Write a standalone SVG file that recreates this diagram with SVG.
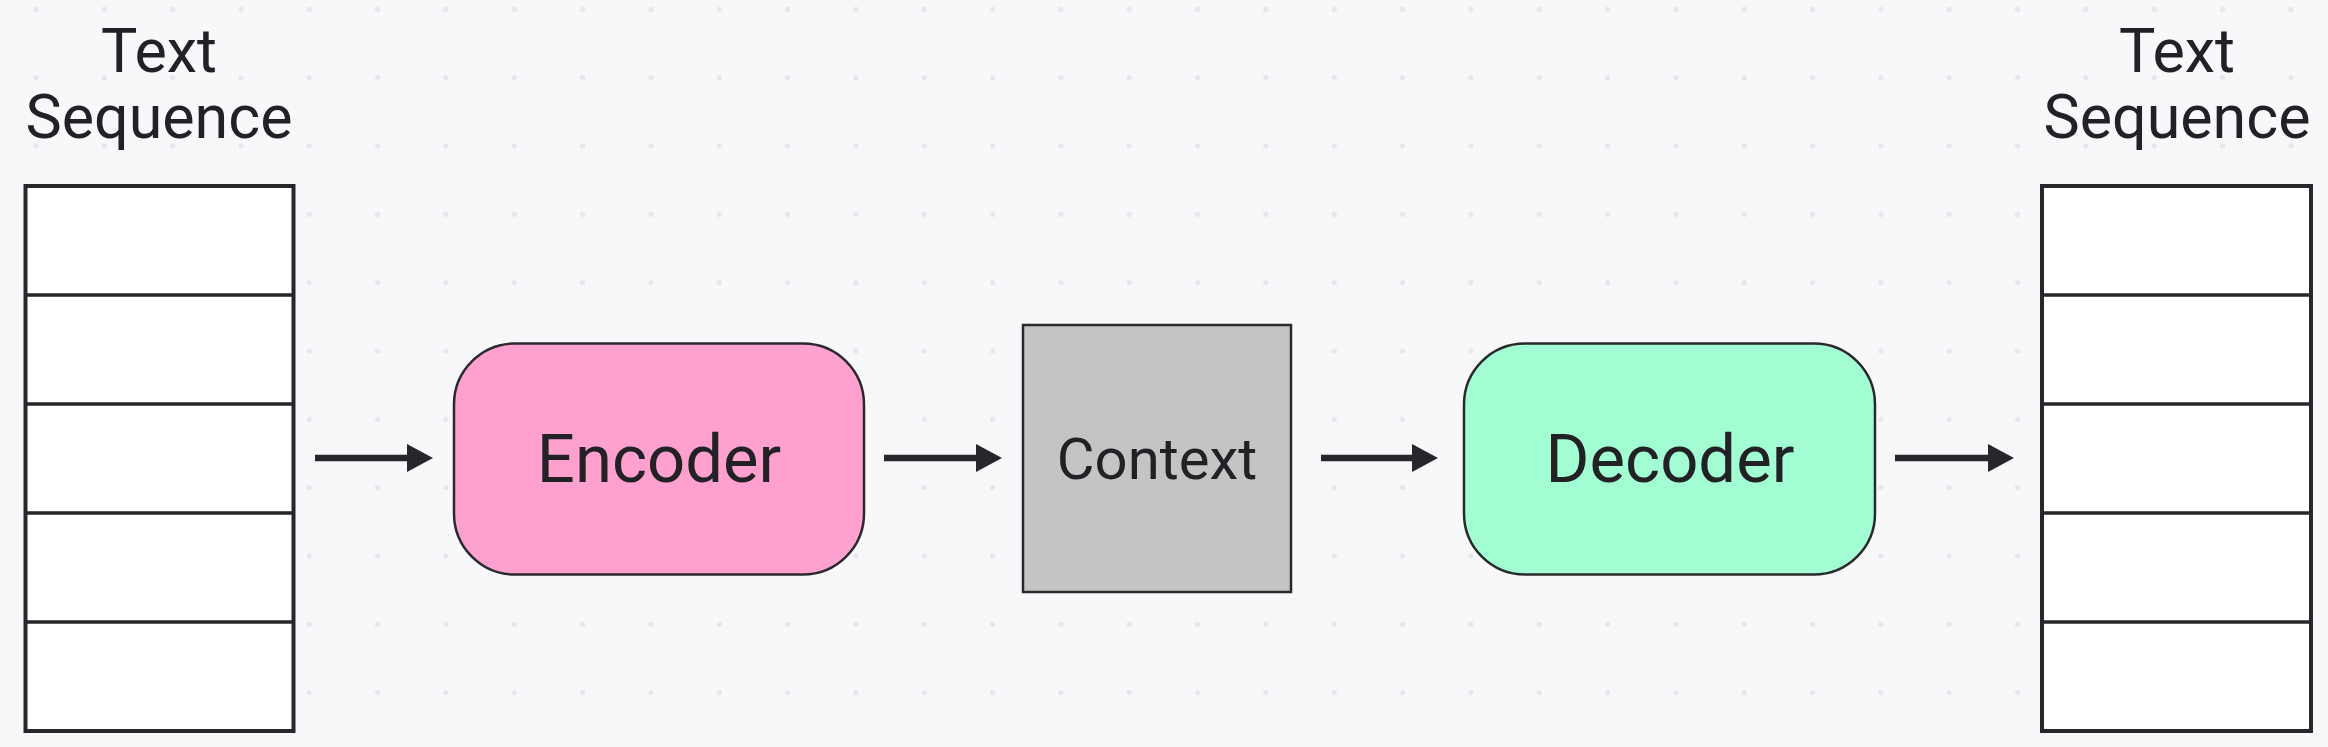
<svg xmlns="http://www.w3.org/2000/svg" width="2328" height="747" viewBox="0 0 2328 747">
  <defs>
    <pattern id="dots" patternUnits="userSpaceOnUse" x="1.8" y="-24.9" width="68.33" height="68.33">
      <circle cx="34.17" cy="34.17" r="2.6" fill="#e6e6eb"/>
    </pattern>
    <path id="head" d="M0,-14 L26,0 L0,14 Z"/>
  </defs>
  <style>
    .seq { fill: #ffffff; stroke: #26262b; stroke-width: 4; }
    .row { stroke: #26262b; stroke-width: 3.5; }
    .label { font-family: Roboto, "Liberation Sans", sans-serif; fill: #222226; text-anchor: middle; }
    .title { font-size: 61px; }
    .node { stroke: #2a2a2e; stroke-width: 2.5; }
    .big { font-size: 67px; }
    .mid { font-size: 58px; }
    .conn line { stroke: #26262b; stroke-width: 6.5; }
    .conn use { fill: #26262b; }
  </style>
  <rect width="2328" height="747" fill="#f8f8fa"/>
  <rect width="2328" height="747" fill="url(#dots)"/>

  <g id="input-sequence">
    <text class="label title" x="159" y="72">Text</text>
    <text class="label title" x="159" y="138">Sequence</text>
    <rect class="seq" x="25.5" y="186" width="268" height="545"/>
    <line class="row" x1="25.5" y1="295" x2="293.5" y2="295"/>
    <line class="row" x1="25.5" y1="404" x2="293.5" y2="404"/>
    <line class="row" x1="25.5" y1="513" x2="293.5" y2="513"/>
    <line class="row" x1="25.5" y1="622" x2="293.5" y2="622"/>
  </g>

  <g id="encoder">
    <rect class="node" x="454" y="343.5" width="410" height="231" rx="61" ry="61" fill="#ffa1cf"/>
    <text class="label big" x="659" y="482">Encoder</text>
  </g>

  <g id="context">
    <rect class="node" x="1023" y="325" width="268" height="267" fill="#c4c4c4"/>
    <text class="label mid" x="1157" y="479">Context</text>
  </g>

  <g id="decoder">
    <rect class="node" x="1464" y="343.5" width="411" height="231" rx="61" ry="61" fill="#a3fdd3"/>
    <text class="label big" x="1670" y="482">Decoder</text>
  </g>

  <g id="output-sequence">
    <text class="label title" x="2177" y="72">Text</text>
    <text class="label title" x="2177" y="138">Sequence</text>
    <rect class="seq" x="2042" y="186" width="269" height="545"/>
    <line class="row" x1="2042" y1="295" x2="2311" y2="295"/>
    <line class="row" x1="2042" y1="404" x2="2311" y2="404"/>
    <line class="row" x1="2042" y1="513" x2="2311" y2="513"/>
    <line class="row" x1="2042" y1="622" x2="2311" y2="622"/>
  </g>

  <g id="connectors" class="conn">
    <line x1="315" y1="458" x2="410" y2="458"/>
    <use href="#head" x="407" y="458"/>
    <line x1="884" y1="458" x2="979" y2="458"/>
    <use href="#head" x="976" y="458"/>
    <line x1="1321" y1="458" x2="1415" y2="458"/>
    <use href="#head" x="1412" y="458"/>
    <line x1="1895" y1="458" x2="1991" y2="458"/>
    <use href="#head" x="1988" y="458"/>
  </g>
</svg>
